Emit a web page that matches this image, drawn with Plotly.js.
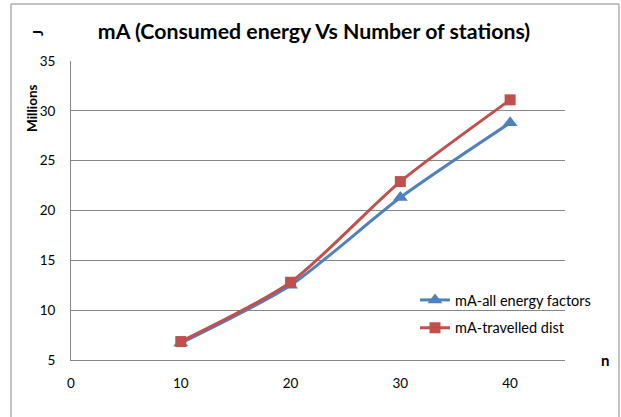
<!DOCTYPE html>
<html><head><meta charset="utf-8">
<script src="https://cdn.plot.ly/plotly-3.0.1.min.js"></script>
<style>html,body{margin:0;padding:0;background:#fff;}#chart{width:621px;height:417px;}</style>
</head><body><div id="chart"></div>
<script>
const stations = [10, 20, 30, 40];
const allEnergy = [6.7, 12.5, 21.3, 28.8];
const travelledDist = [6.85, 12.8, 22.9, 31.1];
const xTicks = [0, 10, 20, 30, 40];
const yTicks = [5, 10, 15, 20, 25, 30, 35];

const F = 'Lato, "Open Sans", sans-serif';
const traces = [
  {x: stations, y: allEnergy, name: 'mA-all energy factors', mode: 'lines+markers', legendgroup: 'a',
   line: {color: '#4F81BD', width: 3, shape: 'spline', smoothing: 0.7},
   marker: {symbol: 'triangle-up', size: 13, color: '#4F81BD'}},
  {x: stations, y: travelledDist, name: 'mA-travelled dist', mode: 'lines+markers', legendgroup: 'b',
   line: {color: '#C0504D', width: 3, shape: 'spline', smoothing: 0.7},
   marker: {symbol: 'square', size: 11, color: '#C0504D'}}
];
const L = 71, R = 56, T = 61, B = 57, W = 621, H = 417;
const pw = W - L - R, ph = H - T - B;
const px = v => (v - L) / pw, py = v => 1 - (v - T) / ph;
const layout = {
  width: W, height: H,
  margin: {l: L, r: R, t: T, b: B, pad: 0},
  paper_bgcolor: '#fff', plot_bgcolor: '#fff',
  font: {family: F, size: 13.5, color: '#000'},
  title: {text: '<b>mA (Consumed energy Vs Number of stations)</b>', font: {family: F, size: 21.3, color: '#000'},
          x: 314 / W, xanchor: 'center', y: 1 - 32 / H, yanchor: 'middle'},
  xaxis: {range: [0, 45], tickvals: xTicks, ticktext: xTicks.map(String), showgrid: false, zeroline: false,
          showline: true, linecolor: '#868686', linewidth: 1, ticks: 'outside', ticklen: 11, tickcolor: 'rgba(0,0,0,0)',
          tickfont: {family: F, size: 13.5}, fixedrange: true},
  yaxis: {range: [5, 35], tickvals: yTicks, ticktext: yTicks.map(String), showgrid: true, gridcolor: '#868686', gridwidth: 1,
          zeroline: false, showline: true, linecolor: '#868686', linewidth: 1, ticks: 'outside', ticklen: 12,
          tickcolor: 'rgba(0,0,0,0)', tickfont: {family: F, size: 13.5}, fixedrange: true},
  showlegend: true,
  legend: {x: px(415), y: py(284), xanchor: 'left', yanchor: 'top', bgcolor: 'rgba(0,0,0,0)',
           font: {family: F, size: 14.5}, traceorder: 'grouped', tracegroupgap: 6},
  shapes: [
    {type: 'rect', xref: 'paper', yref: 'paper', x0: px(11), x1: px(619), y0: py(430), y1: py(4),
     line: {color: '#868686', width: 1}, fillcolor: 'rgba(0,0,0,0)', layer: 'below'}
  ],
  annotations: [
    {text: '<b>Millions</b>', xref: 'paper', yref: 'paper', x: px(32), y: py(108), showarrow: false, textangle: -90,
     font: {family: F, size: 13.5}, xanchor: 'center', yanchor: 'middle'},
    {text: '<b>J</b>', xref: 'paper', yref: 'paper', x: px(37), y: py(33), showarrow: false, textangle: -90,
     font: {family: F, size: 14}, xanchor: 'center', yanchor: 'middle'},
    {text: '<b>n</b>', xref: 'paper', yref: 'paper', x: px(605), y: py(360), showarrow: false,
     font: {family: F, size: 15}, xanchor: 'center', yanchor: 'middle'}
  ]
};
Plotly.newPlot('chart', traces, layout, {displayModeBar: false, staticPlot: true});
</script></body></html>
